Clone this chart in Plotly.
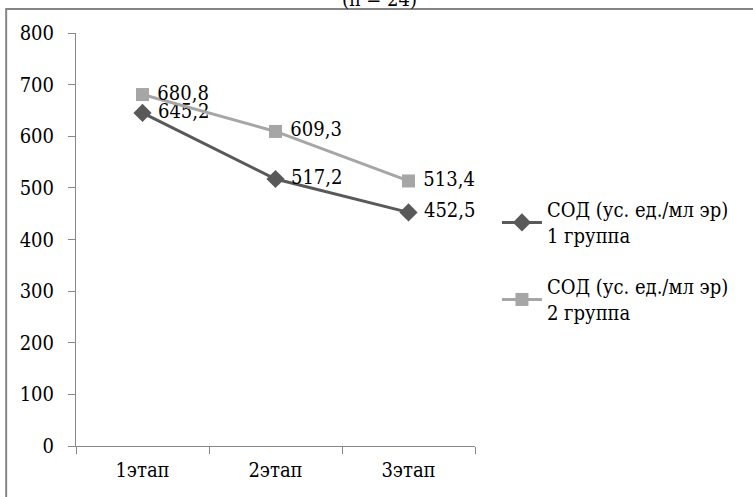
import plotly.graph_objects as go

categories = ["1этап", "2этап", "3этап"]
group1 = [645.2, 517.2, 452.5]
group2 = [680.8, 609.3, 513.4]
name1 = "СОД (ус. ед./мл эр)<br>1 группа"
name2 = "СОД (ус. ед./мл эр)<br>2 группа"
y_ticks = [0, 100, 200, 300, 400, 500, 600, 700, 800]

def fmt(v):
    return f"{v:.1f}".replace(".", ",")

FONT = "DejaVu Serif Condensed, DejaVu Serif"
FS = 20

fig = go.Figure()
fig.add_trace(go.Scatter(
    x=categories, y=group1, name=name1, mode="lines+markers+text", legendgroup="g1",
    line=dict(color="#595959", width=3),
    marker=dict(symbol="diamond", size=14, color="#595959"),
    text=[" " + fmt(v) for v in group1], textposition="middle right",
    textfont=dict(family=FONT, size=FS, color="#000000"),
))
fig.add_trace(go.Scatter(
    x=categories, y=group2, name=name2, mode="lines+markers+text", legendgroup="g2",
    line=dict(color="#a6a6a6", width=3),
    marker=dict(symbol="square", size=13, color="#a6a6a6"),
    text=[" " + fmt(v) for v in group2], textposition="middle right",
    textfont=dict(family=FONT, size=FS, color="#000000"),
))

fig.update_layout(
    width=753, height=497,
    margin=dict(l=76, r=278, t=33, b=51),
    paper_bgcolor="white", plot_bgcolor="white",
    font=dict(family=FONT, size=FS, color="#000000"),
    showlegend=True,
    legend=dict(x=1.055, y=0.62, xanchor="left", yanchor="top",
                font=dict(family=FONT, size=FS), tracegroupgap=22,
                itemwidth=40, bgcolor="rgba(0,0,0,0)"),
    xaxis=dict(type="category", range=[-0.5, 2.5], showline=True, linecolor="#888888",
               linewidth=1, ticks="outside", ticklen=7, tickcolor="#888888",
               tickson="boundaries", showgrid=False, zeroline=False,
               ticklabelstandoff=6, tickfont=dict(family=FONT, size=FS)),
    yaxis=dict(range=[0, 800], tickvals=y_ticks, showline=True, linecolor="#888888",
               linewidth=1, ticks="outside", ticklen=7, tickcolor="#888888",
               showgrid=False, zeroline=False, ticklabelstandoff=10,
               tickfont=dict(family=FONT, size=FS)),
    shapes=[dict(type="rect", xref="paper", yref="paper",
                 x0=-0.175, x1=1.75, y0=-0.2, y1=1.058,
                 line=dict(color="#868686", width=2), layer="below")],
    annotations=[dict(text="(n = 24)", xref="paper", yref="paper", x=0.76, y=1.058,
                      xanchor="center", yanchor="bottom", yshift=-4, showarrow=False,
                      font=dict(family=FONT, size=FS))],
)

fig.write_html("out.html", config={"displayModeBar": False},
               post_script="document.body.style.margin='0px';")
